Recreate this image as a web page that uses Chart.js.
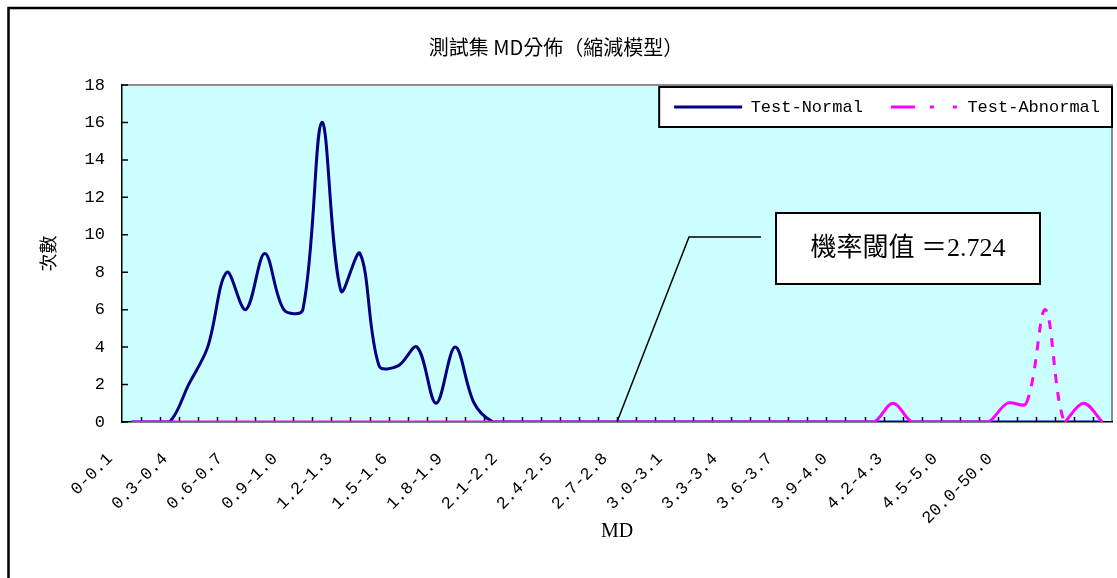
<!DOCTYPE html>
<html>
<head>
<meta charset="utf-8">
<title>測試集 MD分佈</title>
<script src="https://cdn.jsdelivr.net/npm/chart.js@4.4.1/dist/chart.umd.min.js"></script>
<style>
  html, body { margin: 0; padding: 0; background: #fff; }
  #wrap { width: 1117px; height: 578px; position: relative; }
</style>
</head>
<body>
<div id="wrap"><canvas id="chart" width="1117" height="578"></canvas></div>
<script>
// MD bins: 0.1 wide up to 4.5, wider bins after that
const categories = [
  '0-0.1', '0.1-0.2', '0.2-0.3', '0.3-0.4', '0.4-0.5', '0.5-0.6', '0.6-0.7', '0.7-0.8', '0.8-0.9', '0.9-1.0',
  '1.0-1.1', '1.1-1.2', '1.2-1.3', '1.3-1.4', '1.4-1.5', '1.5-1.6', '1.6-1.7', '1.7-1.8', '1.8-1.9', '1.9-2.0',
  '2.0-2.1', '2.1-2.2', '2.2-2.3', '2.3-2.4', '2.4-2.5', '2.5-2.6', '2.6-2.7', '2.7-2.8', '2.8-2.9', '2.9-3.0',
  '3.0-3.1', '3.1-3.2', '3.2-3.3', '3.3-3.4', '3.4-3.5', '3.5-3.6', '3.6-3.7', '3.7-3.8', '3.8-3.9', '3.9-4.0',
  '4.0-4.1', '4.1-4.2', '4.2-4.3', '4.3-4.4', '4.4-4.5', '4.5-5.0', '5.0-10.0', '10.0-20.0', '20.0-50.0', '50.0-100.0',
  '100.0-200.0', '200.0-500.0'
];

// Labels printed under the axis
const tickLabels = [
  '0-0.1', '0.3-0.4', '0.6-0.7', '0.9-1.0', '1.2-1.3', '1.5-1.6', '1.8-1.9', '2.1-2.2', '2.4-2.5',
  '2.7-2.8', '3.0-3.1', '3.3-3.4', '3.6-3.7', '3.9-4.0', '4.2-4.3', '4.5-5.0', '20.0-50.0'
];

// Counts per bin
const testNormal = [
  0, 0, 0, 2, 4, 8, 6, 9, 6, 6,
  16, 7, 9, 3, 3, 4, 1, 4, 1, 0,
  0, 0, 0, 0, 0, 0, 0, 0, 0, 0,
  0, 0, 0, 0, 0, 0, 0, 0, 0, 0,
  0, 0, 0, 0, 0, 0, 0, 0, 0, 0,
  0, 0
];
const testAbnormal = [
  0, 0, 0, 0, 0, 0, 0, 0, 0, 0,
  0, 0, 0, 0, 0, 0, 0, 0, 0, 0,
  0, 0, 0, 0, 0, 0, 0, 0, 0, 0,
  0, 0, 0, 0, 0, 0, 0, 0, 0, 0,
  1, 0, 0, 0, 0, 0, 1, 1, 6, 0,
  1, 0
];

const threshold = 2.724;
const thresholdAt = 25.5;   // position on the category axis where the callout points

const NAVY = '#000080';
const MAGENTA = '#FF00FF';
const PLOT_BG = '#CCFFFF';
const MONO = "'Liberation Mono', monospace";

// White page, outer frame, plot background and the legend's box
const backdrop = {
  id: 'backdrop',
  beforeDraw(chart) {
    const { ctx, chartArea: a, width, height } = chart;
    ctx.save();
    ctx.fillStyle = '#fff';
    ctx.fillRect(0, 0, width, height);
    ctx.strokeStyle = '#000';
    ctx.lineWidth = 2.5;
    ctx.strokeRect(8.5, 8, width + 40, height + 40);
    ctx.fillStyle = PLOT_BG;
    ctx.fillRect(a.left, a.top, a.width, a.height);
    ctx.strokeStyle = '#8c8c8c';
    ctx.lineWidth = 2;
    ctx.beginPath();
    ctx.moveTo(a.left, a.top);
    ctx.lineTo(a.right, a.top);
    ctx.lineTo(a.right, a.bottom);
    ctx.stroke();
    const lg = chart.legend;
    if (lg && lg.legendHitBoxes && lg.legendHitBoxes.length) {
      const hb = lg.legendHitBoxes[0];
      const l = hb.left - 15, t = hb.top + hb.height / 2 - 20;
      ctx.fillStyle = '#fff';
      ctx.fillRect(l, t, a.right - l, 40);
      ctx.strokeStyle = '#000';
      ctx.lineWidth = 2;
      ctx.strokeRect(l, t, a.right - l, 40);
    }
    ctx.restore();
  }
};

// Put the legend inside the top-right corner of the plot
const legendInPlot = {
  id: 'legendInPlot',
  afterLayout(chart) {
    const lg = chart.legend;
    const a = chart.chartArea;
    const pad = lg.options.labels.padding;
    const fs = lg.options.labels.font.size;
    lg.top = a.top + 22 - fs / 2 - pad;
    lg.bottom = lg.top + 2 * pad + fs + 10;
    lg.height = lg.bottom - lg.top;
    const dx = (a.right - 12 + pad) - lg.right;
    lg.left += dx;
    lg.right += dx;
  }
};

// Short tick marks pointing into the plot
const innerTicks = {
  id: 'innerTicks',
  beforeDatasetsDraw(chart) {
    const { ctx, scales: { x, y } } = chart;
    ctx.save();
    ctx.strokeStyle = '#000';
    ctx.lineWidth = 1.5;
    ctx.beginPath();
    for (let k = 1; k < categories.length; k++) {
      const px = Math.round(x.getPixelForValue(k - 0.5)) + 0.5;
      ctx.moveTo(px, y.bottom);
      ctx.lineTo(px, y.bottom - 5);
    }
    y.ticks.forEach((t, i) => {
      const py = y.getPixelForTick(i);
      ctx.moveTo(x.left, py);
      ctx.lineTo(x.left + 6, py);
    });
    ctx.stroke();
    ctx.restore();
  }
};

// Callout box for the probability threshold
const thresholdCallout = {
  id: 'thresholdCallout',
  afterDatasetsDraw(chart, args, opts) {
    const { ctx, scales: { x, y } } = chart;
    const ax = x.getPixelForValue(opts.at);
    const ay = y.getPixelForValue(0);
    const ex = ax + 72, ey = ay - 185;
    ctx.save();
    ctx.strokeStyle = '#000';
    ctx.lineWidth = 1.5;
    ctx.beginPath();
    ctx.moveTo(ax, ay);
    ctx.lineTo(ex, ey);
    ctx.lineTo(ex + 72, ey);
    ctx.stroke();
    const bx = ex + 87, by = ey - 24, bw = 264, bh = 71;
    ctx.fillStyle = '#fff';
    ctx.fillRect(bx, by, bw, bh);
    ctx.lineWidth = 2;
    ctx.strokeRect(bx, by, bw, bh);
    ctx.fillStyle = '#000';
    ctx.font = "26px 'Liberation Serif', 'Noto Sans CJK TC', serif";
    ctx.textAlign = 'center';
    ctx.textBaseline = 'middle';
    ctx.fillText(opts.text, bx + bw / 2, by + bh / 2 + 1);
    ctx.restore();
  }
};

new Chart(document.getElementById('chart'), {
  type: 'line',
  data: {
    labels: categories,
    datasets: [
      {
        label: 'Test-Normal',
        data: testNormal,
        borderColor: NAVY,
        backgroundColor: NAVY,
        borderWidth: 3,
        pointRadius: 0,
        tension: 0.35,
        order: 1
      },
      {
        label: 'Test-Abnormal',
        data: testAbnormal,
        borderColor: MAGENTA,
        backgroundColor: MAGENTA,
        borderWidth: 3,
        borderDash: [24, 15, 4, 19, 4, 40],
        pointRadius: 0,
        tension: 0.35,
        order: 0,
        segment: {
          borderDash: (c) => Math.abs(c.p1.parsed.y - c.p0.parsed.y) >= 3 ? [9, 9] : []
        }
      }
    ]
  },
  options: {
    responsive: false,
    animation: false,
    layout: { padding: { left: 0, right: 5, top: 0, bottom: 34 } },
    plugins: {
      title: {
        display: true,
        text: '測試集 MD分佈（縮減模型）',
        color: '#000',
        font: { family: "'Noto Sans CJK TC', sans-serif", size: 20, weight: 'normal' },
        padding: { top: 35, bottom: 25 }
      },
      legend: {
        display: true,
        position: 'top',
        align: 'end',
        maxHeight: 1,
        labels: {
          color: '#000',
          font: { family: MONO, size: 17 },
          usePointStyle: true,
          pointStyle: 'line',
          pointStyleWidth: 68,
          padding: 28,
          sort: (a, b) => a.datasetIndex - b.datasetIndex,
          generateLabels(chart) {
            const items = Chart.defaults.plugins.legend.labels.generateLabels(chart);
            items.forEach((it) => {
              const ds = chart.data.datasets[it.datasetIndex];
              it.lineDash = ds.borderDash || [];
              it.lineWidth = ds.borderWidth;
              it.strokeStyle = ds.borderColor;
              it.fillStyle = ds.borderColor;
            });
            return items;
          }
        }
      },
      tooltip: { enabled: false },
      thresholdCallout: { at: thresholdAt, text: '機率閾值 ＝' + threshold }
    },
    scales: {
      x: {
        type: 'category',
        offset: true,
        grid: { display: false, drawTicks: false, offset: true },
        border: { display: true, color: '#000', width: 1.5 },
        ticks: { display: false }
      },
      xl: {
        type: 'linear',
        position: 'bottom',
        weight: 1,
        min: 0,
        max: 18,
        grid: { display: false, drawTicks: false },
        border: { display: false },
        afterFit: (s) => { s.height = 122; s.paddingLeft = 0; s.paddingRight = 0; },
        ticks: {
          stepSize: 1,
          autoSkip: false,
          minRotation: 45,
          maxRotation: 45,
          padding: 27,
          labelOffset: -12,
          color: '#000',
          font: { family: MONO, size: 17 },
          callback: (v) => tickLabels[v] || ''
        },
        title: {
          display: true,
          text: 'MD',
          color: '#000',
          font: { family: "'Liberation Serif', serif", size: 20 },
          padding: { top: 2, bottom: 0 }
        }
      },
      y: {
        min: 0,
        max: 18,
        grid: { display: false, drawTicks: false },
        border: { display: true, color: '#000', width: 1.5 },
        afterFit: (s) => { s.width = 122; },
        ticks: {
          stepSize: 2,
          padding: 17,
          color: '#000',
          font: { family: MONO, size: 17 }
        },
        title: {
          display: true,
          text: '次數',
          color: '#000',
          font: { family: "'Noto Sans CJK TC', sans-serif", size: 18 },
          padding: { top: 37, bottom: 26 }
        }
      }
    }
  },
  plugins: [backdrop, legendInPlot, innerTicks, thresholdCallout]
});
</script>
</body>
</html>
